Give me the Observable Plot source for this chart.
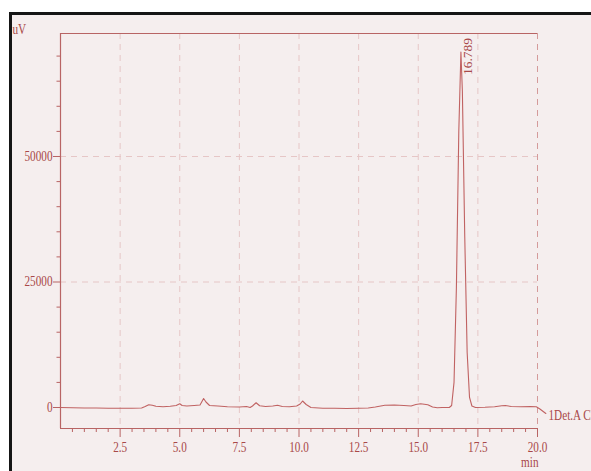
<!DOCTYPE html>
<html>
<head>
<meta charset="utf-8">
<script src="https://cdn.jsdelivr.net/npm/d3@7"></script>
<script src="https://cdn.jsdelivr.net/npm/@observablehq/plot@0.6"></script>
<style>
  html, body { margin: 0; padding: 0; background: #ffffff; overflow: hidden; }
  #wrap { position: relative; width: 591px; height: 471px; overflow: hidden; background: #ffffff; }
  #panel { position: absolute; left: 9px; top: 12px; width: 600px; height: 480px;
           border-left: 3px solid #151515; border-top: 3px solid #151515; background: #f5eeee; }
  #chart { position: absolute; left: 0; top: 0; }
</style>
</head>
<body>
<div id="wrap"><div id="panel"></div><div id="chart"></div></div>
<script>
// Retention time (min) and detector response (uV) of the 1Det.A Ch1 trace
const times = [
  0.0, 0.5, 1.0, 1.5, 2.0, 2.5, 3.0, 3.4, 3.55, 3.7, 3.85, 4.0, 4.3, 4.6, 4.85,
  5.0, 5.1, 5.3, 5.6, 5.85, 6.0, 6.1, 6.25, 6.6, 7.0, 7.5, 7.8, 7.95, 8.05, 8.2,
  8.35, 8.6, 8.9, 9.1, 9.3, 9.6, 9.9, 10.05, 10.15, 10.3, 10.5, 11.0, 11.5, 12.0,
  12.5, 12.9, 13.2, 13.6, 14.0, 14.4, 14.7, 14.9, 15.1, 15.4, 15.6, 15.8, 16.0,
  16.3, 16.4, 16.5, 16.6, 16.7, 16.789, 16.85, 16.95, 17.05, 17.15, 17.25, 17.4,
  17.8, 18.2, 18.5, 18.65, 18.9, 19.3, 19.7, 19.95, 20.1, 20.35
];
const signal = [
  0, -50, -100, -100, -150, -150, -150, -100, 200, 550, 450, 250, 150, 250, 400,
  750, 400, 300, 400, 500, 1800, 1100, 400, 300, 150, 100, 200, 0, 300, 950,
  350, 200, 300, 450, 200, 150, 300, 700, 1300, 600, 0, -150, -150, -200,
  -150, -100, 100, 450, 500, 400, 300, 600, 750, 550, 100, -50, 0,
  0, 400, 5000, 24000, 55000, 70800, 63000, 34000, 11000, 2000, 300, 0,
  50, 150, 350, 400, 200, 150, 200, 150, -300, -1200
];

// Labelled peak
const peakTimes = [16.789];
const peakHeights = [70800];

// Axis ticks
const xMajorTicks = [2.5, 5.0, 7.5, 10.0, 12.5, 15.0, 17.5, 20.0];
const xMajorLabels = ["2.5", "5.0", "7.5", "10.0", "12.5", "15.0", "17.5", "20.0"];
const yMajorTicks = [0, 25000, 50000];
const yMajorLabels = ["0", "25000", "50000"];
const xMinorTicks = d3.range(0.5, 20, 0.5).filter(t => !xMajorTicks.includes(t));
const yMinorTicks = d3.range(5000, 75000, 5000).filter(v => !yMajorTicks.includes(v));

const trace = times.map((t, i) => ({t, v: signal[i]}));
const peaks = peakTimes.map((t, i) => ({t, v: peakHeights[i], label: t.toFixed(3)}));

const xDomain = [0, 20];
const yDomain = [-4180, 74500];

const ink = "#a84848";
const axisInk = "#b86464";
const gridInk = "#e6c6c6";
const traceInk = "#c06262";
const serif = "Liberation Serif, Times New Roman, serif";

const chart = Plot.plot({
  width: 591,
  height: 471,
  marginLeft: 60,
  marginRight: 54,
  marginTop: 33,
  marginBottom: 43,
  x: {domain: xDomain},
  y: {domain: yDomain},
  style: {background: "transparent", fontFamily: serif, color: ink, overflow: "visible"},
  marks: [
    // dashed grid
    Plot.ruleX(xMajorTicks.slice(0, -1), {stroke: gridInk, strokeWidth: 1, strokeDasharray: "6,5"}),
    Plot.ruleY([25000, 50000], {stroke: gridInk, strokeWidth: 1, strokeDasharray: "6,5"}),
    Plot.ruleX([20], {stroke: "#d49a9a", strokeWidth: 1, strokeDasharray: "6,5"}),
    // frame lines
    Plot.ruleY([yDomain[1]], {stroke: axisInk, strokeWidth: 1.2}),
    Plot.ruleX([xDomain[0]], {stroke: axisInk, strokeWidth: 1.2}),
    Plot.ruleY([yDomain[0]], {stroke: axisInk, strokeWidth: 1.2}),
    // y axis
    Plot.axisY(yMajorTicks, {tickSize: 7, tickPadding: 1, stroke: axisInk, fill: ink,
      tickFormat: d => yMajorLabels[yMajorTicks.indexOf(d)], fontSize: 14, label: null}),
    Plot.axisY(yMinorTicks, {tickSize: 3.5, stroke: axisInk, tickFormat: () => "", label: null}),
    // x axis
    Plot.axisX(xMajorTicks, {tickSize: 9, tickPadding: 5, stroke: axisInk, fill: ink,
      tickFormat: d => xMajorLabels[xMajorTicks.indexOf(d)], fontSize: 14, label: null}),
    Plot.axisX(xMinorTicks, {tickSize: 4, stroke: axisInk, tickFormat: () => "", label: null}),
    // trace
    Plot.line(trace, {x: "t", y: "v", stroke: traceInk, strokeWidth: 1.1, curve: "linear"}),
    // peak retention time
    Plot.text(peaks, {x: "t", y: "v", text: "label", rotate: -90, textAnchor: "start",
      dx: 7, dy: 23, fill: ink, fontSize: 13.5, fontFamily: serif}),
    // unit labels
    Plot.text(["uV"], {frameAnchor: "top-left", dx: -48, dy: -9, textAnchor: "start",
      fill: ink, fontSize: 14, className: "squeeze"}),
    Plot.text(["min"], {frameAnchor: "bottom-right", dx: 1, dy: 38, textAnchor: "end",
      fill: ink, fontSize: 14, className: "squeeze"}),
    Plot.text(["1Det.A Ch1"], {frameAnchor: "bottom-right", dx: 11, dy: -9, textAnchor: "start",
      fill: ink, fontSize: 14, className: "squeeze"})
  ]
});

document.getElementById("chart").appendChild(chart);

// narrow the serif lettering of the axis and unit labels
chart.querySelectorAll("g[aria-label='y-axis tick label'] text, g[aria-label='x-axis tick label'] text, .squeeze text, text.squeeze").forEach(t => {
  const w = t.getComputedTextLength();
  if (w > 0) {
    t.setAttribute("textLength", (w * 0.8).toFixed(2));
    t.setAttribute("lengthAdjust", "spacingAndGlyphs");
  }
});
</script>
</body>
</html>
